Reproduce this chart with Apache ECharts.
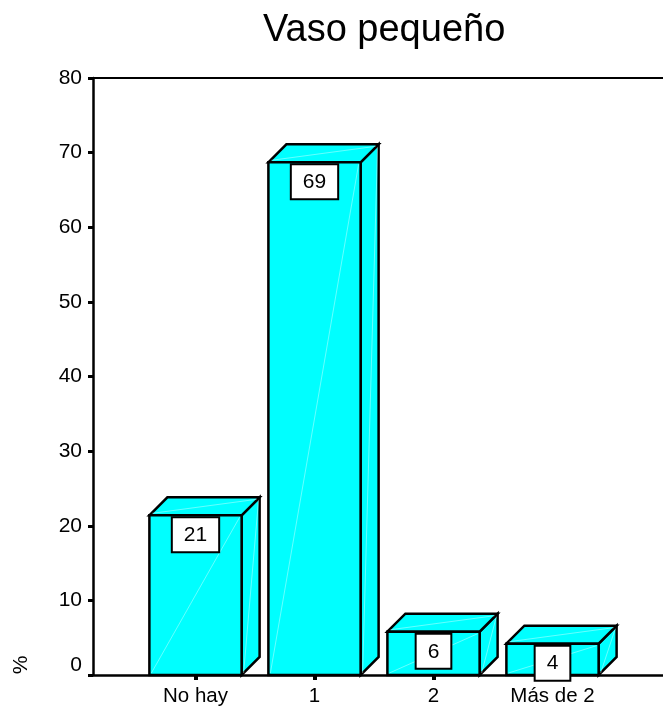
<!DOCTYPE html>
<html>
<head>
<meta charset="utf-8">
<script src="https://cdn.jsdelivr.net/npm/echarts@6/dist/echarts.min.js"></script>
<style>
html, body { margin: 0; padding: 0; background: #fff; }
#chart { width: 663px; height: 709px; }
</style>
</head>
<body>
<div id="chart"></div>
<script>
// datos
var categories = ['No hay', '1', '2', 'Más de 2'];
var percents = [21.4, 68.7, 5.8, 4.2];
var yMin = 0;
var yMax = 80;
var yStep = 10;

var FONT = 'Liberation Sans, Arial, sans-serif';
var chart = echarts.init(document.getElementById('chart'));

// barra 3D estilo SPSS
function renderBox (params, api) {
    var idx = api.value(0);
    var val = api.value(1);
    var top = api.coord([idx, val]);
    var base = api.coord([idx, 0]);
    var band = api.size([1, 0])[0];
    var w = band * 0.775;
    var d = 18;
    var x0 = top[0] - w / 2;
    var x1 = top[0] + w / 2;
    var yt = top[1];
    var yb = base[1];
    var edge = { fill: '#00ffff', stroke: '#000', lineWidth: 2.5, lineJoin: 'miter' };
    var seam = { stroke: 'rgba(255,255,255,0.4)', lineWidth: 1 };
    return {
        type: 'group',
        children: [
            { type: 'polygon', shape: { points: [[x1, yt], [x1 + d, yt - d], [x1 + d, yb - d], [x1, yb]] }, style: edge },
            { type: 'line', shape: { x1: x1 + d - 1, y1: yt - d + 2, x2: x1 + 2, y2: yb - 2 }, style: seam },
            { type: 'polygon', shape: { points: [[x0, yt], [x0 + d, yt - d], [x1 + d, yt - d], [x1, yt]] }, style: edge },
            { type: 'line', shape: { x1: x0 + 3, y1: yt - 2, x2: x1 + d - 3, y2: yt - d + 2 }, style: seam },
            { type: 'rect', shape: { x: x0, y: yt, width: w, height: yb - yt }, style: edge },
            { type: 'line', shape: { x1: x0 + 2, y1: yb - 2, x2: x1 - 2, y2: yt + 2 }, style: seam },
            {
                type: 'text',
                x: top[0],
                y: yt + 3,
                style: {
                    text: String(Math.round(val)),
                    textAlign: 'center',
                    textVerticalAlign: 'top',
                    fontSize: 21,
                    fontFamily: FONT,
                    fill: '#000',
                    backgroundColor: '#fff',
                    borderColor: '#000',
                    borderWidth: 2,
                    lineHeight: 22,
                    padding: [6, 11, 5, 11]
                }
            }
        ]
    };
}

var option = {
    animation: false,
    title: {
        text: 'Vaso pequeño',
        left: 258,
        top: 7,
        textStyle: { fontSize: 38, fontWeight: 'normal', color: '#000', fontFamily: FONT }
    },
    graphic: [
        {
            type: 'text',
            x: 21,
            y: 665,
            rotation: Math.PI / 2,
            style: { text: '%', textAlign: 'center', textVerticalAlign: 'middle', fontSize: 21, fontFamily: FONT, fill: '#000' }
        }
    ],
    grid: [
        { left: 93, right: 0, top: 78, bottom: 34 },
        { left: 136, right: 51, top: 78, bottom: 34 }
    ],
    xAxis: [
        {
            gridIndex: 0, type: 'value', min: 0, max: 1, position: 'bottom',
            axisLine: { show: true, lineStyle: { color: '#000', width: 2.5 } },
            axisTick: { show: false }, axisLabel: { show: false }, splitLine: { show: false }
        },
        {
            gridIndex: 0, type: 'value', min: 0, max: 1, position: 'top',
            axisLine: { show: true, lineStyle: { color: '#000', width: 2 } },
            axisTick: { show: false }, axisLabel: { show: false }, splitLine: { show: false }
        },
        {
            gridIndex: 1, type: 'category', data: categories,
            axisLine: { show: false },
            axisTick: { show: true, alignWithLabel: true, length: 5, lineStyle: { color: '#000', width: 4 } },
            axisLabel: { fontSize: 20.5, color: '#000', fontFamily: FONT, margin: 11, interval: 0 },
            splitLine: { show: false }
        }
    ],
    yAxis: [
        {
            gridIndex: 0, type: 'value', min: yMin, max: yMax, interval: yStep,
            axisLine: { show: true, lineStyle: { color: '#000', width: 2.5 } },
            axisTick: { show: true, length: 5, lineStyle: { color: '#000', width: 3 } },
            axisLabel: {
                fontSize: 21, color: '#000', fontFamily: FONT, margin: 11,
                formatter: function (v) { return v === 0 ? '{z|0}' : String(v) },
                rich: { z: { fontSize: 21, fontFamily: FONT, color: '#000', padding: [0, 0, 20, 0] } }
            },
            splitLine: { show: false }
        },
        {
            gridIndex: 1, type: 'value', min: yMin, max: yMax, show: false, splitLine: { show: false }
        }
    ],
    series: [
        {
            type: 'custom',
            xAxisIndex: 2,
            yAxisIndex: 1,
            renderItem: renderBox,
            encode: { x: 0, y: 1 },
            clip: false,
            data: percents.map(function (p, i) { return [i, p] })
        }
    ]
};
chart.setOption(option);
</script>
</body>
</html>
